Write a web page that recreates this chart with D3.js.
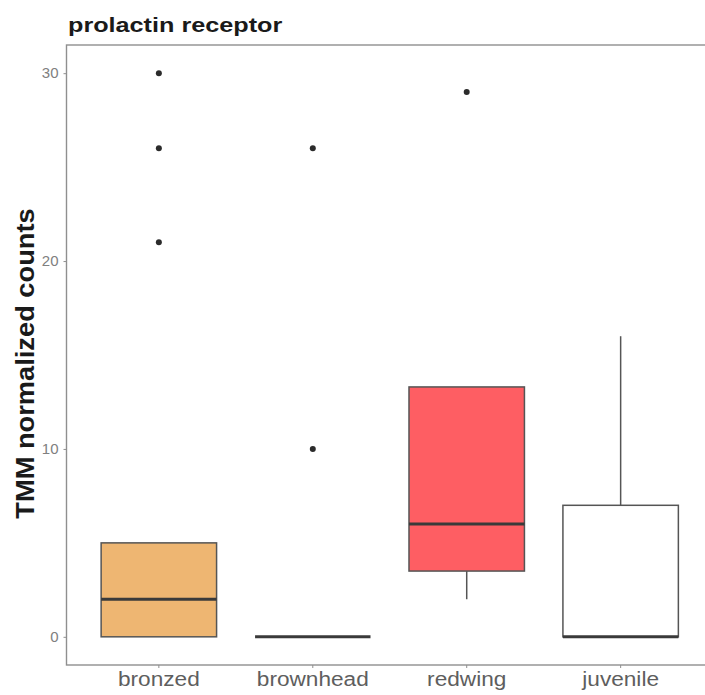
<!DOCTYPE html>
<html>
<head>
<meta charset="utf-8">
<script src="https://cdn.jsdelivr.net/npm/d3@7"></script>
<style>
  body { margin: 0; background: #fff; }
  svg { display: block; font-family: "Liberation Sans", Arial, sans-serif; }
</style>
</head>
<body>
<div id="chart"></div>
<script>
// values (boxplot summaries)
const groups = ["bronzed", "brownhead", "redwing", "juvenile"];
const lower = [0, 0, 2, 0];
const q1 = [0, 0, 3.5, 0];
const median = [2, 0, 6, 0];
const q3 = [5, 0, 13.3, 7];
const upper = [5, 0, 13.3, 16];
const outliers = [[21, 26, 30], [10, 26], [29], []];
const fills = ["#EEB672", "#FFFFFF", "#FE5E63", "#FFFFFF"];
const yTicks = [0, 10, 20, 30];

const width = 705, height = 695;
const panelL = 66.5, panelR = 713, panelT = 45, panelB = 665;

const svg = d3.select("#chart").append("svg")
  .attr("width", width)
  .attr("height", height);

// the original text is set a bit wider than Liberation Sans
function widen(sel, k) {
  sel.each(function () {
    const w = this.getComputedTextLength();
    d3.select(this).attr("textLength", w * k).attr("lengthAdjust", "spacingAndGlyphs");
  });
}

const x = d3.scaleBand()
  .domain(groups)
  .range([panelL, panelR])
  .paddingInner(0.25)
  .paddingOuter(0.225);

const y = d3.scaleLinear()
  .domain([-1.5, 31.5])
  .range([panelB, panelT]);

// panel border
svg.append("rect")
  .attr("x", panelL)
  .attr("y", panelT)
  .attr("width", panelR - panelL)
  .attr("height", panelB - panelT)
  .attr("fill", "none")
  .attr("stroke", "#8f8f8f")
  .attr("stroke-width", 1.4);

const data = groups.map((g, i) => ({
  g, lo: lower[i], q1: q1[i], med: median[i], q3: q3[i], hi: upper[i],
  out: outliers[i], fill: fills[i]
}));

const box = svg.append("g").selectAll("g")
  .data(data)
  .join("g");

const cx = d => x(d.g) + x.bandwidth() / 2;

// whiskers
box.append("line")
  .attr("x1", cx).attr("x2", cx)
  .attr("y1", d => y(d.q3)).attr("y2", d => y(d.hi))
  .attr("stroke", "#555").attr("stroke-width", 1.5);
box.append("line")
  .attr("x1", cx).attr("x2", cx)
  .attr("y1", d => y(d.q1)).attr("y2", d => y(d.lo))
  .attr("stroke", "#555").attr("stroke-width", 1.5);

box.append("rect")
  .attr("x", d => x(d.g))
  .attr("width", x.bandwidth())
  .attr("y", d => y(d.q3))
  .attr("height", d => y(d.q1) - y(d.q3))
  .attr("fill", d => d.fill)
  .attr("stroke", "#555")
  .attr("stroke-width", 1.5);

box.append("line")
  .attr("x1", d => x(d.g)).attr("x2", d => x(d.g) + x.bandwidth())
  .attr("y1", d => y(d.med)).attr("y2", d => y(d.med))
  .attr("stroke", "#3a3a3a").attr("stroke-width", 3);

box.selectAll("circle")
  .data(d => d.out.map(v => ({ g: d.g, v })))
  .join("circle")
  .attr("cx", cx)
  .attr("cy", d => y(d.v))
  .attr("r", 3)
  .attr("fill", "#2b2b2b");

// y axis
const yAxis = svg.append("g")
  .attr("transform", `translate(${panelL},0)`)
  .call(d3.axisLeft(y).tickValues(yTicks).tickSize(3).tickPadding(5));
yAxis.select(".domain").remove();
yAxis.selectAll("line").attr("stroke", "#8f8f8f");
yAxis.selectAll("text").attr("fill", "#808080").style("font-size", "15px")
  .style("font-family", "Liberation Sans, Arial, sans-serif");

// x axis
const xAxis = svg.append("g")
  .attr("transform", `translate(0,${panelB})`)
  .call(d3.axisBottom(x).tickSize(3).tickPadding(4));
xAxis.select(".domain").remove();
xAxis.selectAll("line").attr("stroke", "#8f8f8f");
xAxis.selectAll("text").attr("fill", "#5e5e5e").style("font-size", "19.5px")
  .style("font-family", "Liberation Sans, Arial, sans-serif")
  .call(widen, 1.16);

// titles
svg.append("text")
  .attr("x", 68)
  .attr("y", 32)
  .attr("font-size", 21)
  .attr("font-weight", "bold")
  .attr("fill", "#1a1a1a")
  .text("prolactin receptor")
  .call(widen, 1.2);

svg.append("text")
  .attr("transform", `translate(34,363.5) rotate(-90)`)
  .attr("text-anchor", "middle")
  .attr("font-size", 25)
  .attr("font-weight", "bold")
  .attr("fill", "#1a1a1a")
  .text("TMM normalized counts")
  .call(widen, 1.09);
</script>
</body>
</html>
